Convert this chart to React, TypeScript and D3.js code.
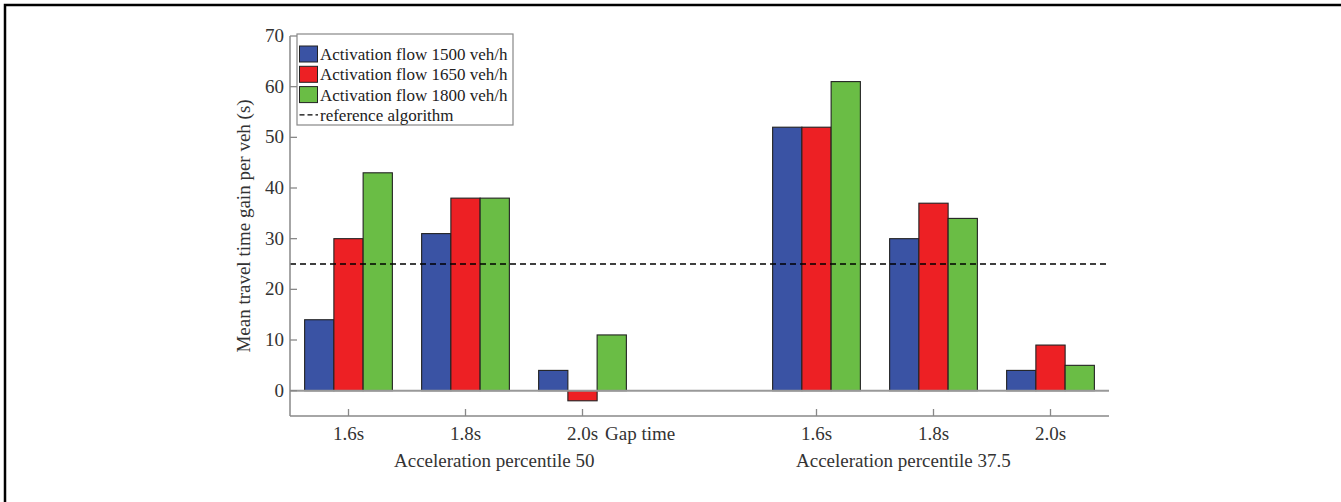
import React from "react";
import * as d3 from "d3";

const gapTimes = ["1.6s", "1.8s", "2.0s"];
const groups = ["Acceleration percentile 50", "Acceleration percentile 37.5"];
const seriesNames = [
  "Activation flow 1500 veh/h",
  "Activation flow 1650 veh/h",
  "Activation flow 1800 veh/h",
];
const seriesColors = ["#3a53a4", "#ed2024", "#6abd45"];
// index: group * 3 + gap time
const flow1500 = [14, 31, 4, 52, 30, 4];
const flow1650 = [30, 38, -2, 52, 37, 9];
const flow1800 = [43, 38, 11, 61, 34, 5];
const referenceValue = 25;
const yTicks = [0, 10, 20, 30, 40, 50, 60, 70];

const W = 1341;
const H = 502;
const FONT = "'Liberation Serif', 'Times New Roman', serif";

export default function App() {
  const left = 290;
  const right = 1109;
  const top = 36;
  const bottom = 416;

  const slots = ["g0-0", "g0-1", "g0-2", "sep", "g1-0", "g1-1", "g1-2"];
  const x = d3.scaleBand<string>().domain(slots).range([left, right]).paddingInner(0).paddingOuter(0);
  const y = d3.scaleLinear().domain([-5, 70]).range([bottom, top]);
  const series = [flow1500, flow1650, flow1800];
  const inner = d3
    .scaleBand<number>()
    .domain([0, 1, 2])
    .range([0, x.bandwidth() * 0.75]);

  const cats: { slot: string; label: string; idx: number }[] = [];
  groups.forEach((g, gi) =>
    gapTimes.forEach((t, ti) => cats.push({ slot: `g${gi}-${ti}`, label: t, idx: gi * 3 + ti }))
  );

  const legendX = 297;
  const legendY = 34;
  const rowH = 20.3;

  return (
    <svg
      width={W}
      height={H}
      style={{ position: "absolute", left: 0, top: 0, background: "#fff", fontFamily: FONT }}
    >
      <path d={`M5,${H + 5} L5,5 L${W + 5},5`} fill="none" stroke="#000" strokeWidth={2.5} />

      {cats.map((c) => {
        const x0 = (x(c.slot) as number) + x.bandwidth() / 2 - (x.bandwidth() * 0.75) / 2;
        return series.map((s, si) => {
          const v = s[c.idx];
          const y0 = y(Math.max(0, v));
          const y1 = y(Math.min(0, v));
          return (
            <rect
              key={c.slot + si}
              x={x0 + (inner(si) as number)}
              y={y0}
              width={inner.bandwidth()}
              height={y1 - y0}
              fill={seriesColors[si]}
              stroke="#222"
              strokeWidth={1.1}
            />
          );
        });
      })}

      <line x1={left} x2={right} y1={y(0)} y2={y(0)} stroke="#999" strokeWidth={2} />

      <line
        x1={left}
        x2={right}
        y1={y(referenceValue)}
        y2={y(referenceValue)}
        stroke="#000"
        strokeWidth={1.3}
        strokeDasharray="6,4"
      />

      <line x1={left} x2={left} y1={top} y2={bottom} stroke="#888" strokeWidth={1.5} />
      {yTicks.map((t) => (
        <g key={t}>
          <line x1={left} x2={left + 7} y1={y(t)} y2={y(t)} stroke="#888" strokeWidth={1.3} />
          <text x={left - 6} y={y(t) + 6} textAnchor="end" fontSize={19} fill="#333">
            {t}
          </text>
        </g>
      ))}
      <text
        transform={`translate(250,${(top + bottom) / 2}) rotate(-90)`}
        textAnchor="middle"
        fontSize={19}
        fill="#333"
      >
        Mean travel time gain per veh (s)
      </text>

      <line x1={left} x2={right} y1={bottom} y2={bottom} stroke="#888" strokeWidth={1.5} />
      {cats.map((c) => {
        const cx = (x(c.slot) as number) + x.bandwidth() / 2;
        return (
          <g key={"t" + c.slot}>
            <line x1={cx} x2={cx} y1={bottom} y2={bottom - 7} stroke="#888" strokeWidth={1.3} />
            <text x={cx} y={440} textAnchor="middle" fontSize={19} fill="#333">
              {c.label}
            </text>
          </g>
        );
      })}
      <text x={605} y={440} fontSize={19} fill="#333">
        Gap time
      </text>
      <text x={394} y={467} fontSize={19} fill="#333">
        {groups[0]}
      </text>
      <text x={796} y={467} fontSize={19} fill="#333">
        {groups[1]}
      </text>

      <rect x={legendX} y={legendY} width={216} height={91} fill="#fff" stroke="#888" strokeWidth={1.2} />
      {seriesNames.map((n, i) => (
        <g key={n}>
          <rect
            x={legendX + 2.5}
            y={legendY + 12 + i * rowH}
            width={18}
            height={16}
            fill={seriesColors[i]}
            stroke="#222"
            strokeWidth={1}
          />
          <text x={legendX + 23} y={legendY + 26 + i * rowH} fontSize={17} fill="#222">
            {n}
          </text>
        </g>
      ))}
      <line
        x1={legendX + 2.5}
        x2={legendX + 21}
        y1={legendY + 20 + 3 * rowH}
        y2={legendY + 20 + 3 * rowH}
        stroke="#000"
        strokeWidth={1.3}
        strokeDasharray="5,3"
      />
      <text x={legendX + 23} y={legendY + 26 + 3 * rowH} fontSize={17} fill="#222">
        reference algorithm
      </text>
    </svg>
  );
}
